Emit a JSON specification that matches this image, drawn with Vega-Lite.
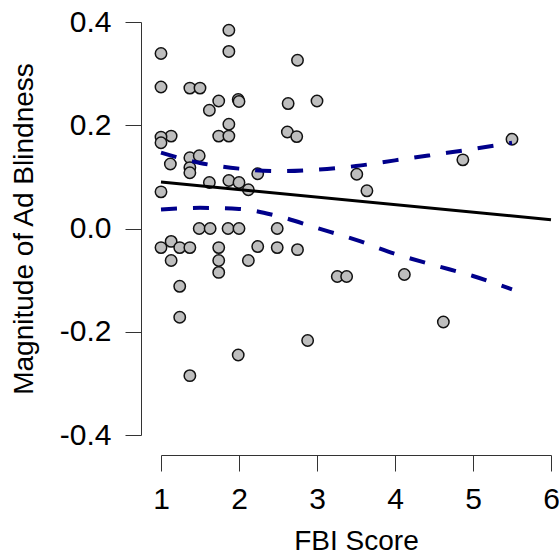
{
  "$schema": "https://vega.github.io/schema/vega-lite/v6.json",
  "autosize": "none",
  "padding": {"left": 141, "top": 0, "right": 0, "bottom": 102},
  "width": 418,
  "height": 455,
  "background": "white",
  "config": {"view": {"stroke": null}, "font": "Liberation Sans"},
  "datasets": {
    "pts": [
      {"fbi": 1.87, "mag": 0.384}, {"fbi": 1.0, "mag": 0.339}, {"fbi": 1.87, "mag": 0.343},
      {"fbi": 1.0, "mag": 0.274}, {"fbi": 1.37, "mag": 0.272}, {"fbi": 1.5, "mag": 0.272},
      {"fbi": 1.74, "mag": 0.247}, {"fbi": 1.99, "mag": 0.25}, {"fbi": 2.0, "mag": 0.246},
      {"fbi": 1.62, "mag": 0.229}, {"fbi": 1.87, "mag": 0.202}, {"fbi": 1.13, "mag": 0.179},
      {"fbi": 1.0, "mag": 0.177}, {"fbi": 1.0, "mag": 0.166}, {"fbi": 1.74, "mag": 0.179},
      {"fbi": 1.87, "mag": 0.179}, {"fbi": 1.37, "mag": 0.137}, {"fbi": 1.49, "mag": 0.141},
      {"fbi": 1.12, "mag": 0.125}, {"fbi": 1.37, "mag": 0.118}, {"fbi": 1.37, "mag": 0.108},
      {"fbi": 2.24, "mag": 0.106}, {"fbi": 1.0, "mag": 0.071}, {"fbi": 1.62, "mag": 0.089},
      {"fbi": 1.87, "mag": 0.093}, {"fbi": 2.0, "mag": 0.089}, {"fbi": 2.12, "mag": 0.075},
      {"fbi": 1.49, "mag": 0.0}, {"fbi": 1.63, "mag": 0.0}, {"fbi": 1.86, "mag": 0.0},
      {"fbi": 2.0, "mag": 0.0}, {"fbi": 2.49, "mag": 0.0}, {"fbi": 1.13, "mag": -0.025},
      {"fbi": 1.0, "mag": -0.037}, {"fbi": 1.24, "mag": -0.037}, {"fbi": 1.37, "mag": -0.037},
      {"fbi": 1.13, "mag": -0.062}, {"fbi": 1.74, "mag": -0.037}, {"fbi": 1.74, "mag": -0.062},
      {"fbi": 1.74, "mag": -0.085}, {"fbi": 2.24, "mag": -0.035}, {"fbi": 2.12, "mag": -0.062},
      {"fbi": 2.49, "mag": -0.037}, {"fbi": 1.24, "mag": -0.112}, {"fbi": 1.24, "mag": -0.172},
      {"fbi": 1.99, "mag": -0.245}, {"fbi": 1.37, "mag": -0.285}, {"fbi": 2.63, "mag": 0.242},
      {"fbi": 3.0, "mag": 0.247}, {"fbi": 2.62, "mag": 0.187}, {"fbi": 2.74, "mag": 0.178},
      {"fbi": 5.5, "mag": 0.173}, {"fbi": 4.87, "mag": 0.133}, {"fbi": 3.51, "mag": 0.105},
      {"fbi": 3.64, "mag": 0.073}, {"fbi": 2.75, "mag": -0.041}, {"fbi": 3.26, "mag": -0.093},
      {"fbi": 3.38, "mag": -0.093}, {"fbi": 4.12, "mag": -0.089}, {"fbi": 4.62, "mag": -0.181},
      {"fbi": 2.88, "mag": -0.217}, {"fbi": 2.75, "mag": 0.326}
    ],
    "fit": [{"fbi": 1.0, "mag": 0.090}, {"fbi": 6.0, "mag": 0.017}],
    "upper": [
      {"fbi": 1.0, "mag": 0.147}, {"fbi": 1.5, "mag": 0.127}, {"fbi": 2.0, "mag": 0.116},
      {"fbi": 2.5, "mag": 0.111}, {"fbi": 3.0, "mag": 0.114}, {"fbi": 3.5, "mag": 0.121},
      {"fbi": 4.0, "mag": 0.132}, {"fbi": 4.5, "mag": 0.143}, {"fbi": 5.0, "mag": 0.154},
      {"fbi": 5.5, "mag": 0.166}
    ],
    "lower": [
      {"fbi": 1.0, "mag": 0.037}, {"fbi": 1.5, "mag": 0.040}, {"fbi": 2.0, "mag": 0.038},
      {"fbi": 2.5, "mag": 0.024}, {"fbi": 3.0, "mag": 0.001}, {"fbi": 3.5, "mag": -0.022},
      {"fbi": 4.0, "mag": -0.049}, {"fbi": 4.5, "mag": -0.071}, {"fbi": 5.0, "mag": -0.092},
      {"fbi": 5.5, "mag": -0.118}
    ]
  },
  "encoding": {
    "x": {
      "field": "fbi", "type": "quantitative",
      "scale": {"domain": [1, 6], "range": [20, 410], "nice": false, "zero": false},
      "axis": {
        "title": "FBI Score", "values": [1, 2, 3, 4, 5, 6], "grid": false, "labelFlush": false,
        "domainColor": "#333", "tickColor": "#333", "tickSize": 16, "domainWidth": 1, "tickWidth": 1,
        "labelFontSize": 30, "labelColor": "black", "labelPadding": 13, "labelFont": "Liberation Sans",
        "titleFontSize": 28, "titleFontWeight": "normal", "titleColor": "black", "titlePadding": 13, "titleFont": "Liberation Sans"
      }
    },
    "y": {
      "field": "mag", "type": "quantitative",
      "scale": {"domain": [-0.4, 0.4], "range": [435, 22], "nice": false, "zero": false},
      "axis": {
        "title": "Magnitude of Ad Blindness", "values": [-0.4, -0.2, 0, 0.2, 0.4], "format": ".1f",
        "labelExpr": "replace(datum.label, '\u2212', '-')", "grid": false, "labelFlush": false,
        "domainColor": "#333", "tickColor": "#333", "tickSize": 16, "domainWidth": 1, "tickWidth": 1,
        "labelFontSize": 30, "labelColor": "black", "labelPadding": 14, "labelFont": "Liberation Sans",
        "titleFontSize": 28, "titleFontWeight": "normal", "titleColor": "black", "titlePadding": 21, "titleFont": "Liberation Sans"
      }
    }
  },
  "layer": [
    {
      "data": {"name": "pts"},
      "mark": {"type": "circle", "size": 130, "fill": "#BEBEBE", "stroke": "#111", "strokeWidth": 1.5, "opacity": 1, "fillOpacity": 1}
    },
    {
      "data": {"name": "fit"},
      "mark": {"type": "line", "color": "black", "strokeWidth": 3}
    },
    {
      "data": {"name": "upper"},
      "mark": {"type": "line", "color": "#00008B", "strokeWidth": 4, "strokeDash": [16, 16], "interpolate": "monotone"}
    },
    {
      "data": {"name": "lower"},
      "mark": {"type": "line", "color": "#00008B", "strokeWidth": 4, "strokeDash": [16, 16], "interpolate": "monotone"}
    }
  ]
}
